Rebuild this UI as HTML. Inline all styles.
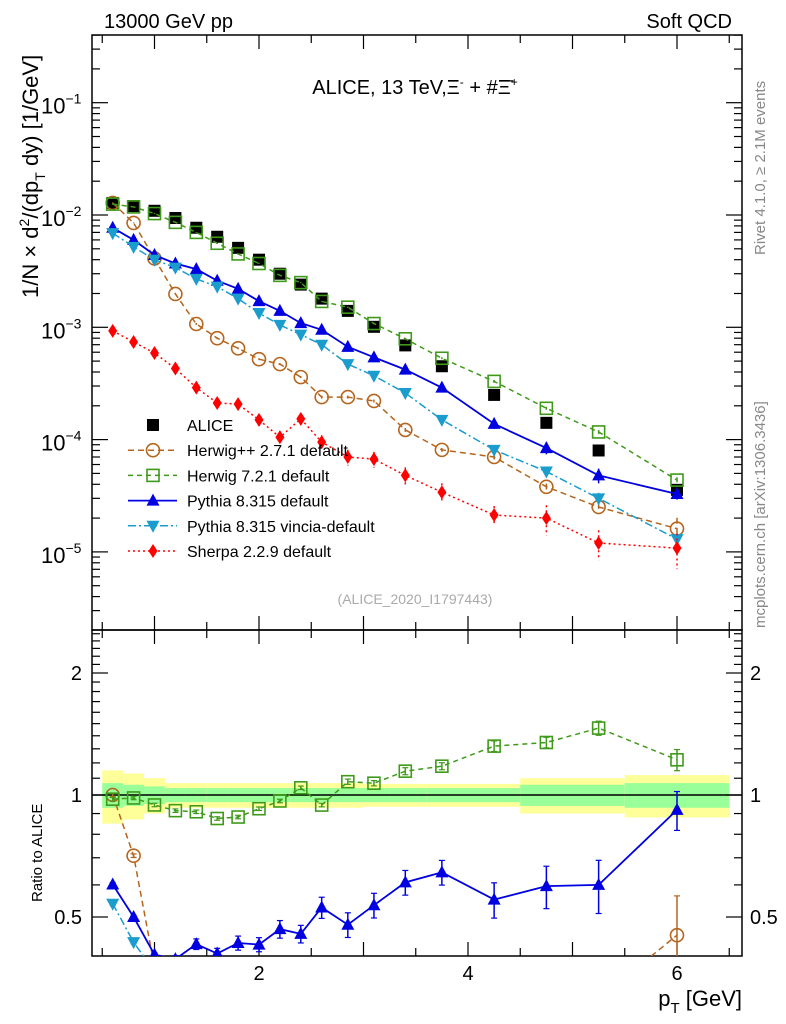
<!DOCTYPE html>
<html><head><meta charset="utf-8">
<style>
html,body{margin:0;padding:0;background:#fff;overflow:hidden;width:786px;height:1024px;}
svg{display:block;font-family:"Liberation Sans",sans-serif;}
</style></head>
<body>
<svg id="chart" width="786" height="1024" viewBox="0 0 786 1024" xmlns="http://www.w3.org/2000/svg">
  <text x="104" y="28" font-size="20">13000 GeV pp</text>
  <text x="732" y="28" font-size="20" text-anchor="end">Soft QCD</text>
  <text x="415" y="94" font-size="20" text-anchor="middle">ALICE, 13 TeV,Ξ<tspan dy="-8" font-size="12">-</tspan><tspan dy="8"> + #Ξ̄</tspan><tspan dy="-8" font-size="12">+</tspan></text>
  <text transform="translate(38,298) rotate(-90)" font-size="22">1/N × d<tspan dy="-9" font-size="14">2</tspan><tspan dy="9">/(dp</tspan><tspan dy="7" font-size="14">T</tspan><tspan dy="-7"> dy) [1/GeV]</tspan></text>
  <text transform="translate(765,255) rotate(-90)" font-size="15" fill="#888">Rivet 4.1.0, ≥ 2.1M events</text>
  <text transform="translate(765,628) rotate(-90)" font-size="15" fill="#888">mcplots.cern.ch [arXiv:1306.3436]</text>
  <text x="415" y="604" font-size="14" fill="#aaa" text-anchor="middle">(ALICE_2020_I1797443)</text>
  <text transform="translate(42,902) rotate(-90)" font-size="15">Ratio to ALICE</text>
  <text x="742" y="1006" font-size="22" text-anchor="end">p<tspan dy="7" font-size="15">T</tspan><tspan dy="-7"> [GeV]</tspan></text>
  <g id="main"></g>
  <g id="ratio"></g>
</svg>
<script>
const xs = [0.6,0.8,1.0,1.2,1.4,1.6,1.8,2.0,2.2,2.4,2.6,2.85,3.1,3.4,3.75,4.25,4.75,5.25,6.0];
const binEdges = [0.5,0.7,0.9,1.1,1.3,1.5,1.7,1.9,2.1,2.3,2.5,2.7,3.0,3.25,3.6,4.0,4.5,5.0,5.5,6.5];
const alice = [0.0128,0.0120,0.0109,0.0094,0.0077,0.0064,0.0051,0.0040,0.0030,0.0024,0.0018,0.00140,0.00101,0.00069,0.00045,0.00025,0.000141,0.000080,0.0000357];
const statErr = [0.07,0.06,0.05,0.04,0.04,0.04,0.04,0.04,0.04,0.04,0.04,0.04,0.04,0.04,0.04,0.04,0.06,0.06,0.07];
const totErr  = [0.15,0.13,0.10,0.07,0.07,0.07,0.07,0.07,0.07,0.07,0.07,0.07,0.065,0.065,0.065,0.065,0.10,0.10,0.12];
const herwigpp = [0.0128,0.0085,0.0041,0.00198,0.00107,0.00080,0.00065,0.00052,0.00047,0.00036,0.000239,0.000239,0.000221,0.000122,0.000081,0.000070,0.000038,0.0000251,0.0000161];
const herwigppErr = [0.01,0.01,0.01,0.01,0.02,0.02,0.02,0.02,0.02,0.02,0.03,0.03,0.03,0.04,0.04,0.05,0.07,0.09,0.25];
const herwig7 = [0.0125,0.0118,0.0103,0.0086,0.0070,0.0056,0.0045,0.0037,0.0029,0.0025,0.0017,0.00151,0.00108,0.00079,0.00053,0.00033,0.000190,0.000117,0.0000436];
const herwig7Err = [0.01,0.01,0.01,0.01,0.01,0.01,0.01,0.01,0.01,0.01,0.01,0.015,0.015,0.02,0.02,0.03,0.03,0.04,0.06];
const pythia = [0.0077,0.0060,0.0044,0.0037,0.0033,0.0026,0.0022,0.00171,0.0014,0.00109,0.00095,0.00067,0.00054,0.00042,0.00029,0.000138,0.000084,0.000048,0.0000328];
const pythiaErr = [0.01,0.01,0.01,0.02,0.03,0.03,0.04,0.04,0.05,0.05,0.06,0.07,0.07,0.07,0.07,0.10,0.12,0.15,0.11];
const vincia = [0.0069,0.0052,0.0040,0.0034,0.0027,0.0023,0.00180,0.00134,0.00105,0.00086,0.00070,0.00047,0.00037,0.00026,0.000150,0.000081,0.000052,0.0000300,0.0000130];
const vinciaErr = [0.01,0.01,0.02,0.02,0.03,0.03,0.03,0.04,0.04,0.05,0.05,0.06,0.06,0.06,0.07,0.08,0.1,0.12,0.1];
const sherpa = [0.00093,0.00074,0.00059,0.00043,0.00029,0.000212,0.000207,0.000150,0.000105,0.000153,0.000095,0.000070,0.000067,0.000048,0.000034,0.0000213,0.0000200,0.0000120,0.0000108];
const sherpaErr = [0.04,0.05,0.06,0.08,0.09,0.1,0.1,0.12,0.14,0.12,0.15,0.16,0.16,0.18,0.2,0.2,0.3,0.3,0.35];
const yTickExp = [-1,-2,-3,-4,-5];
const ratioTicks = [0.5,1,2];
const xTicks = [2,4,6];

const NS="http://www.w3.org/2000/svg";
const L=92,R=742,T=35,B=630,RT=630,RB=956;
const X=v=>259+(v-2)*104.5;
const Y=v=>215-112.3*(Math.log10(v)+2);
const YR=v=>795-122*Math.log2(v);
function el(tag,attrs,parent){const e=document.createElementNS(NS,tag);for(const k in attrs)e.setAttribute(k,attrs[k]);parent.appendChild(e);return e;}
const main=document.getElementById('main'), ratio=document.getElementById('ratio');

const defs=el('defs',{},main);
const c1=el('clipPath',{id:'cm'},defs);el('rect',{x:L,y:T,width:R-L,height:B-T},c1);
const c2=el('clipPath',{id:'cr'},defs);el('rect',{x:L,y:RT,width:R-L,height:RB-RT},c2);

const bandG=el('g',{'clip-path':'url(#cr)'},ratio);


for(let i=0;i<xs.length;i++){
  const x0=X(binEdges[i]),x1=X(binEdges[i+1]);
  const r1=el('rect',{x:x0,y:YR(1+totErr[i]),width:x1-x0,height:YR(1-totErr[i])-YR(1+totErr[i]),fill:'#ffff99'},bandG);
  
  
  const r2=el('rect',{x:x0,y:YR(1+statErr[i]),width:x1-x0,height:YR(1-statErr[i])-YR(1+statErr[i]),fill:'#99ff99'},bandG);
  
  
}
el('line',{x1:L,x2:R,y1:YR(1),y2:YR(1),stroke:'#000','stroke-width':1.5},ratio);

function frame(g,top,bot,name){
  const f=el('rect',{x:L,y:top,width:R-L,height:bot-top,fill:'none',stroke:'#000','stroke-width':1.5},g);
  
  
  for(let v=0.5;v<=6.5;v+=0.5){
    const major=Math.abs(v-Math.round(v))<1e-6;
    const len=major?14:8;
    el('line',{x1:X(v),x2:X(v),y1:bot,y2:bot-len,stroke:'#000','stroke-width':1.2},g);
    el('line',{x1:X(v),x2:X(v),y1:top,y2:top+len,stroke:'#000','stroke-width':1.2},g);
  }
}
frame(main,T,B,'main-frame');
frame(ratio,RT,RB,'ratio-frame');
xTicks.forEach(v=>{const t=el('text',{x:X(v),y:980,'font-size':20,'text-anchor':'middle'},ratio);t.textContent=v;
  
  });
for(let e=-6;e<=0;e++){
  for(let m=1;m<10;m++){
    const v=m*Math.pow(10,e),y=Y(v);
    if(y<T||y>B)continue;
    const len=m==1?16:8;
    el('line',{x1:L,x2:L+len,y1:y,y2:y,stroke:'#000','stroke-width':1.2},main);
    el('line',{x1:R,x2:R-len,y1:y,y2:y,stroke:'#000','stroke-width':1.2},main);
  }
}
yTickExp.forEach(e=>{const t=el('text',{x:41,y:Y(Math.pow(10,e))+11,'font-size':22},main);
  t.textContent='10';
  const s=el('tspan',{dy:-10,'font-size':14},t);s.textContent='−'+(-e);
  
  });
for(let v=0.4;v<=2.55;v+=0.1){
  const y=YR(v);if(y<RT||y>RB)continue;
  const major=ratioTicks.some(r=>Math.abs(r-v)<1e-6);
  const len=major?16:8;
  el('line',{x1:L,x2:L+len,y1:y,y2:y,stroke:'#000','stroke-width':1.2},ratio);
  el('line',{x1:R,x2:R-len,y1:y,y2:y,stroke:'#000','stroke-width':1.2},ratio);
}
ratioTicks.forEach(v=>{
  const t=el('text',{x:82,y:YR(v)+7,'font-size':20,'text-anchor':'end'},ratio);t.textContent=v;
  
  
  const t2=el('text',{x:750,y:YR(v)+7,'font-size':20},ratio);t2.textContent=v;
  
  
});

function marker(g,type,x,y,color){
  let m;
  if(type=='sqf') m=el('rect',{x:x-6,y:y-6,width:12,height:12,fill:color},g);
  else if(type=='sqo') m=el('rect',{x:x-6,y:y-6,width:12,height:12,fill:'none',stroke:color,'stroke-width':1.6},g);
  else if(type=='circ') m=el('circle',{cx:x,cy:y,r:6.5,fill:'none',stroke:color,'stroke-width':1.6},g);
  else if(type=='tri') m=el('polygon',{points:`${x},${y-7} ${x-6.5},${y+5} ${x+6.5},${y+5}`,fill:color},g);
  else if(type=='itri') m=el('polygon',{points:`${x},${y+7} ${x-6.5},${y-5} ${x+6.5},${y-5}`,fill:color},g);
  else m=el('polygon',{points:`${x},${y-7} ${x-4.5},${y} ${x},${y+7} ${x+4.5},${y}`,fill:color},g);
  return m;
}
const series=[
 {name:'herwigpp',vals:herwigpp,err:herwigppErr,color:'#b5651d',dash:'6,4',m:'circ',w:1.5},
 {name:'herwig7',vals:herwig7,err:herwig7Err,color:'#3f9a1a',dash:'5,4',m:'sqo',w:1.5},
 {name:'pythia',vals:pythia,err:pythiaErr,color:'#0000e0',dash:'',m:'tri',w:1.8},
 {name:'vincia',vals:vincia,err:vinciaErr,color:'#1a9ccc',dash:'8,3,2,3',m:'itri',w:1.5},
 {name:'sherpa',vals:sherpa,err:sherpaErr,color:'#ff0000',dash:'2,3',m:'dia',w:1.5}
];
const mg=el('g',{'clip-path':'url(#cm)'},main);
const rg=el('g',{'clip-path':'url(#cr)'},ratio);
const ag=el('g',{},mg);


xs.forEach((x,i)=>{const m=marker(ag,'sqf',X(x),Y(alice[i]),'#000');
  
  });
series.forEach(s=>{
  const g=el('g',{},mg);
  
  
  const g2=el('g',{},rg);
  
  
  const pts=xs.map((x,i)=>X(x)+','+Y(s.vals[i])).join(' ');
  el('polyline',{points:pts,fill:'none',stroke:s.color,'stroke-width':s.w,'stroke-dasharray':s.dash},g);
  const rpts=xs.map((x,i)=>X(x)+','+YR(s.vals[i]/alice[i])).join(' ');
  el('polyline',{points:rpts,fill:'none',stroke:s.color,'stroke-width':s.w,'stroke-dasharray':s.dash},g2);
  xs.forEach((x,i)=>{
    const v=s.vals[i],e=s.err[i],r=v/alice[i];
    el('line',{x1:X(x),x2:X(x),y1:Y(v*(1+e)),y2:Y(v*(1-e)),stroke:s.color,'stroke-width':1.5,'stroke-dasharray':s.dash},g);
    const m=marker(g,s.m,X(x),Y(v),s.color);
    
    
    if(YR(r)>RB+4) return;
    el('line',{x1:X(x),x2:X(x),y1:YR(r*(1+e)),y2:YR(r*(1-e)),stroke:s.color,'stroke-width':1.5},g2);
    el('line',{x1:X(x)-3,x2:X(x)+3,y1:YR(r*(1+e)),y2:YR(r*(1+e)),stroke:s.color,'stroke-width':1.2},g2);
    el('line',{x1:X(x)-3,x2:X(x)+3,y1:YR(r*(1-e)),y2:YR(r*(1-e)),stroke:s.color,'stroke-width':1.2},g2);
    const m2=marker(g2,s.m,X(x),YR(r),s.color);
    
    
  });
});
const legNames=['ALICE','Herwig++ 2.7.1 default','Herwig 7.2.1 default','Pythia 8.315 default','Pythia 8.315 vincia-default','Sherpa 2.2.9 default'];
const lg=el('g',{},main);


legNames.forEach((n,i)=>{
  const y=425+i*25.2;
  const e=el('g',{},lg);
  
  
  if(i==0){marker(e,'sqf',153,y,'#000');}
  else{const s=series[i-1];
    el('line',{x1:128,x2:177,y1:y,y2:y,stroke:s.color,'stroke-width':s.w,'stroke-dasharray':s.dash},e);
    marker(e,s.m,153,y,s.color);}
  const t=el('text',{x:187,y:y+6,'font-size':16},e);t.textContent=n;
});
</script>
</body></html>
